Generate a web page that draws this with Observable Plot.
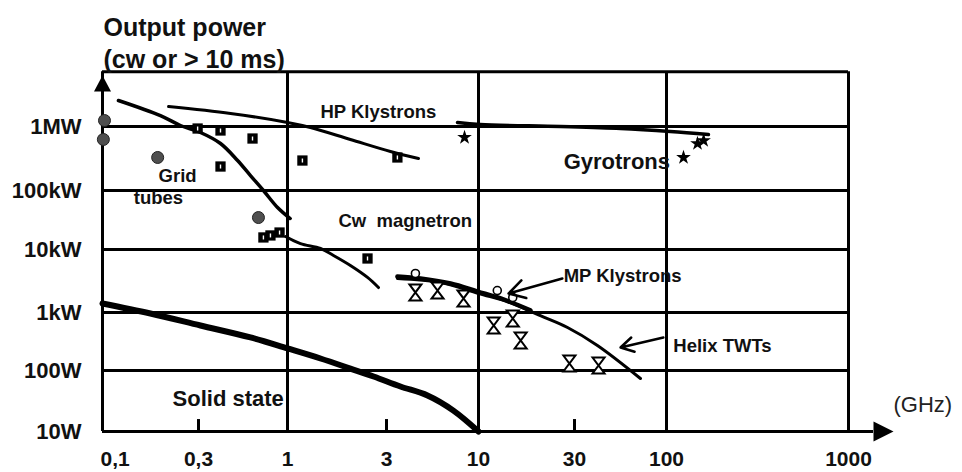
<!DOCTYPE html>
<html><head><meta charset="utf-8">
<script src="https://cdn.jsdelivr.net/npm/d3@7"></script>
<script src="https://cdn.jsdelivr.net/npm/@observablehq/plot@0.6"></script>
<style>
html,body{margin:0;padding:0;background:#fff;}
#chart svg{display:block;}
</style></head><body><div id="chart"></div>
<script>
// ---- axis ticks (frequency in GHz, power in W) ----
const xTickValues = [0.1, 0.3, 1, 3, 10, 30, 100, 1000];
const xTickLabels = ["0,1", "0,3", "1", "3", "10", "30", "100", "1000"];
const yTickValues = [10, 100, 1e3, 1e4, 1e5, 1e6];
const yTickLabels = ["10W", "100W", "1kW", "10kW", "100kW", "1MW"];
const gridX = [1, 10, 100, 1000];
const gridY = [100, 1e3, 1e4, 1e5, 1e6];
const minorX = [0.3, 3, 30];
const TOP = 7.2e6;        // top frame of the chart
const X_END = 1372;       // end of the x axis line (under the arrow)
const MINOR_TOP = 15.7;   // top of the short ticks at 0.3, 3, 30

// ---- curves ----
const gridTubeF = [0.120, 0.194, 0.244, 0.308, 0.404, 0.509, 0.606, 0.722, 0.874, 1.03];
const gridTubeP = [2.55e6, 1.48e6, 1.037e6, 8.06e5, 5.42e5, 2.94e5, 1.71e5, 1e5, 5.15e4, 3.35e4];
const hpKlyF = [0.213, 0.463, 1.0, 1.29, 2.01, 3.16, 4.56];
const hpKlyP = [2.05e6, 1.6e6, 1.155e6, 9.65e5, 6.27e5, 4.07e5, 3.16e5];
const gyroF = [7.6, 10.2, 25.6, 54.8, 105, 170];
const gyroP = [1.155e6, 1.075e6, 1e6, 9.3e5, 8.35e5, 7.5e5];
const magF = [0.974, 1.155, 1.442, 1.666, 2.01, 2.43, 2.745];
const magP = [1.66e4, 1.26e4, 1.04e4, 8.03e3, 5.57e3, 3.6e3, 2.49e3];
const mpKlyF = [3.46, 4.68, 6.94, 9.9, 12.9, 18.1];
const mpKlyP = [3.72e3, 3.47e3, 2.88e3, 2.15e3, 1.67e3, 1.08e3];
const helixF = [3.46, 6.08, 10, 14.4, 20.3, 27.7, 40.5, 71.1];
const helixP = [3.47e3, 2.99e3, 2.0e3, 1.44e3, 880, 551, 270, 74];
const solidF = [0.1, 0.173, 0.308, 0.606, 1, 1.442, 2.01, 2.6, 3.6, 5.13, 7.2, 10];
const solidP = [1390, 961, 597, 371, 240, 161, 108, 79.8, 54.7, 38.9, 22, 10];

// ---- data points ----
const gridDotF = [0.1023, 0.101, 0.188, 0.675];
const gridDotP = [1.24e6, 6.27e5, 3.28e5, 3.48e4];
const squareF = [0.297, 0.404, 0.404, 0.623, 1.18, 3.46, 0.722, 0.794, 0.898, 2.43];
const squareP = [9.3e5, 8.66e5, 2.37e5, 6.49e5, 2.94e5, 3.28e5, 1.6e4, 1.73e4, 1.94e4, 7.2e3];
const starF = [8.33, 124, 148, 160];
const starP = [6.74e5, 3.28e5, 5.42e5, 6.04e5];
const twtF = [4.38, 5.85, 8.22, 11.9, 14.8, 16.2, 28.3, 41.1];
const twtP = [2.08e3, 2.23e3, 1.67e3, 597, 788, 329, 132, 122];
const mpDotF = [4.38, 12.4, 14.8];
const mpDotP = [4.16e3, 2.23e3, 1.73e3];

// ---- annotations ----
const labelText = ["HP Klystrons", "Cw\u00a0 magnetron", "Grid", "tubes", "MP Klystrons", "Helix TWTs"];
const labelF = [1.442, 1.76, 0.19, 0.143, 26.5, 109];
const labelP = [1.655e6, 2.98e4, 1.71e5, 7.31e4, 3.72e3, 259];
const bigLabelText = ["Gyrotrons", "Solid state"];
const bigLabelF = [26.5, 0.223];
const bigLabelP = [2.84e5, 34.7];
const arrowF1 = [26.1, 96];
const arrowP1 = [3.47e3, 371];
const arrowF2 = [14.1, 54.8];
const arrowP2 = [2.0e3, 249];

const pts = (F, P) => F.map((f, i) => ({f, p: P[i]}));

const hourglass = {draw(c) {
  c.moveTo(-6, -8); c.lineTo(6, -8); c.lineTo(0, 0); c.closePath();
  c.moveTo(-6, 8); c.lineTo(6, 8); c.lineTo(0, 0); c.closePath();
}};
const arrowRight = {draw(c) { c.moveTo(10, 0); c.lineTo(-10, -10); c.lineTo(-10, 10); c.closePath(); }};
const arrowUp = {draw(c) { c.moveTo(0, -8); c.lineTo(8.5, 8); c.lineTo(-8.5, 8); c.closePath(); }};
const innerBar = {draw(c) { c.rect(-0.7, -2, 1.4, 4); }};

const font = "Liberation Sans, Arial, Helvetica, sans-serif";

const chart = Plot.plot({
  width: 962, height: 472,
  marginLeft: 102, marginRight: 114, marginTop: 71, marginBottom: 41,
  style: {background: "#fff", fontFamily: font},
  x: {type: "log", axis: null, domain: xTickValues, range: [102, 198, 287, 386, 478, 574, 666, 848]},
  y: {type: "log", axis: null, domain: yTickValues, range: [431, 370, 312, 249, 190, 126]},
  marks: [
    // grid and frame
    Plot.ruleY(gridY, {x1: 0.1, x2: 1000, stroke: "#000", strokeWidth: 3}),
    Plot.ruleY([TOP], {x1: 0.1, x2: 1000, stroke: "#000", strokeWidth: 3}),
    Plot.ruleX(gridX, {y1: 10, y2: TOP, stroke: "#000", strokeWidth: 3}),
    Plot.ruleX([0.1], {y1: 10, y2: TOP, stroke: "#000", strokeWidth: 3}),
    Plot.ruleY([10], {x1: 0.1, x2: X_END, stroke: "#000", strokeWidth: 3}),
    Plot.ruleX(minorX, {y1: 10, y2: MINOR_TOP, stroke: "#000", strokeWidth: 3}),
    Plot.dot([0], {frameAnchor: "bottom-right", dx: 35, symbol: arrowRight, fill: "#000", stroke: "none"}),
    Plot.dot([0], {frameAnchor: "top-left", dy: 12, symbol: arrowUp, fill: "#000", stroke: "none"}),
    // curves
    Plot.line(pts(solidF, solidP), {x: "f", y: "p", curve: "catmull-rom", strokeWidth: 6, stroke: "#000"}),
    Plot.line(pts(gridTubeF, gridTubeP), {x: "f", y: "p", curve: "catmull-rom", strokeWidth: 3.5, stroke: "#000"}),
    Plot.line(pts(hpKlyF, hpKlyP), {x: "f", y: "p", curve: "catmull-rom", strokeWidth: 3, stroke: "#000"}),
    Plot.line(pts(gyroF, gyroP), {x: "f", y: "p", curve: "catmull-rom", strokeWidth: 3.5, stroke: "#000"}),
    Plot.line(pts(magF, magP), {x: "f", y: "p", curve: "catmull-rom", strokeWidth: 3, stroke: "#000"}),
    Plot.line(pts(mpKlyF, mpKlyP), {x: "f", y: "p", curve: "catmull-rom", strokeWidth: 4.5, stroke: "#000"}),
    Plot.line(pts(helixF, helixP), {x: "f", y: "p", curve: "catmull-rom", strokeWidth: 3, stroke: "#000"}),
    // data points
    Plot.dot(pts(gridDotF, gridDotP), {x: "f", y: "p", r: 6, fill: "#4f4f4f", stroke: "#222", strokeWidth: 1}),
    Plot.dot(pts(squareF, squareP), {x: "f", y: "p", symbol: "square", r: 5.8, fill: "#000", stroke: "none"}),
    Plot.dot(pts(squareF, squareP), {x: "f", y: "p", symbol: innerBar, fill: "#fff", stroke: "none"}),
    Plot.dot(pts(starF, starP), {x: "f", y: "p", symbol: "star", r: 4.6, fill: "#000", stroke: "none"}),
    Plot.dot(pts(twtF, twtP), {x: "f", y: "p", symbol: hourglass, fill: "#fff", stroke: "#000", strokeWidth: 2}),
    Plot.dot(pts(mpDotF, mpDotP), {x: "f", y: "p", r: 4, fill: "#fff", stroke: "#000", strokeWidth: 1.6}),
    // annotation arrows
    Plot.arrow(d3.range(arrowF1.length), {x1: i => arrowF1[i], y1: i => arrowP1[i], x2: i => arrowF2[i], y2: i => arrowP2[i], headLength: 11, strokeWidth: 2.5, stroke: "#000"}),
    // labels
    Plot.text(d3.range(labelText.length), {x: i => labelF[i], y: i => labelP[i], text: i => labelText[i], textAnchor: "start", lineAnchor: "middle", fontSize: 18.5, fontWeight: "bold", fill: "#111"}),
    Plot.text(d3.range(bigLabelText.length), {x: i => bigLabelF[i], y: i => bigLabelP[i], text: i => bigLabelText[i], textAnchor: "start", lineAnchor: "middle", fontSize: 22, fontWeight: "bold", fill: "#111"}),
    // tick labels
    Plot.text(d3.range(yTickValues.length), {x: 0.1, y: i => yTickValues[i], text: i => yTickLabels[i], dx: -21, textAnchor: "end", lineAnchor: "middle", fontSize: 22, fontWeight: "bold", fill: "#111"}),
    Plot.text([0], {x: 0.1, y: 10, text: () => xTickLabels[0], dx: -2, dy: 28, textAnchor: "start", lineAnchor: "middle", fontSize: 21, fontWeight: "bold", fill: "#111"}),
    Plot.text(d3.range(1, xTickValues.length), {x: i => xTickValues[i], y: 10, text: i => xTickLabels[i], dy: 28, textAnchor: "middle", lineAnchor: "middle", fontSize: 21, fontWeight: "bold", fill: "#111"}),
    Plot.text(["(GHz)"], {x: 1767, y: 27.7, text: d => d, textAnchor: "start", lineAnchor: "middle", fontSize: 22, fill: "#222"}),
    Plot.text(["Output power\n(cw or > 10 ms)"], {frameAnchor: "top-left", dx: 1, dy: -58, text: d => d, textAnchor: "start", lineAnchor: "top", lineHeight: 1.28, fontSize: 25, fontWeight: "bold", fill: "#111"})
  ]
});
document.getElementById("chart").appendChild(chart);
</script></body></html>
